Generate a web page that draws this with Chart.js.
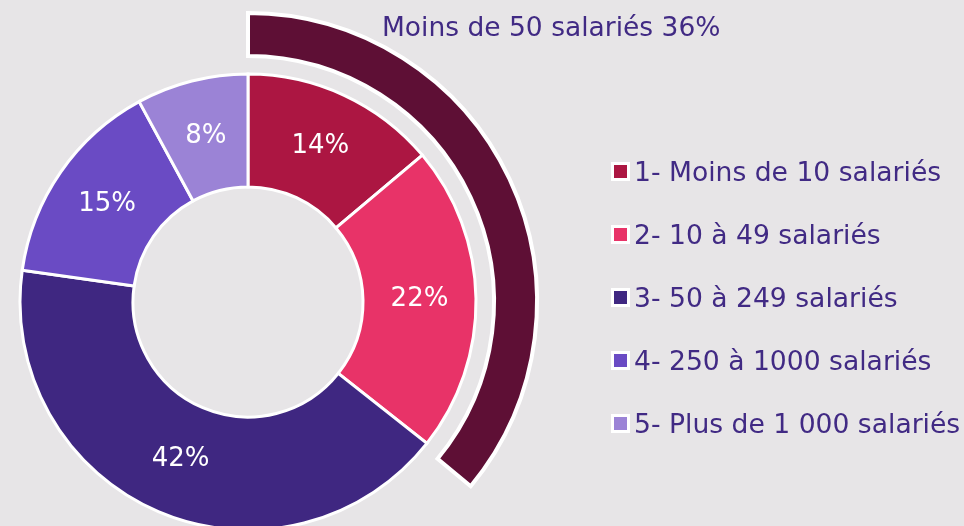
<!DOCTYPE html>
<html lang="fr">
<head>
<meta charset="utf-8">
<script src="https://cdn.jsdelivr.net/npm/chart.js@4/dist/chart.umd.min.js"></script>
<style>
    html, body { margin: 0; padding: 0; background: #E7E5E7; }
    .wrap { position: relative; width: 964px; height: 526px; overflow: hidden; font-family: "DejaVu Sans", sans-serif; color: #412A84; }
    .wrap canvas { position: absolute; left: 0; top: 0; }
    .outer-label { position: absolute; left: 382px; top: 13.6px; font-size: 26.5px; line-height: 26.5px; white-space: nowrap; }
    .legend { position: absolute; left: 611px; top: 139.5px; margin: 0; padding: 0; list-style: none; font-size: 26.6px; line-height: 63px; white-space: nowrap; }
    .legend .box { display: inline-block; width: 13px; height: 13px; border: 3px solid #fff; margin-right: 4px; }
</style>
</head>
<body>
<div class="wrap">
    <canvas id="chart" width="964" height="526"></canvas>
    <div class="outer-label" id="outerLabel"></div>
    <ul class="legend" id="legend"></ul>
</div>
<script>
    // Répartition des entreprises par taille
    const categories = ['1- Moins de 10 salariés', '2- 10 à 49 salariés', '3- 50 à 249 salariés', '4- 250 à 1000 salariés', '5- Plus de 1 000 salariés'];
    const shares = [14, 22, 42, 15, 8];
    const sliceColors = ['#AC1642', '#E83368', '#3F2781', '#6A4BC4', '#9B83D6'];

    // arc extérieur : part des moins de 50 salariés
    const groupLabel = 'Moins de 50 salariés';
    const groupShare = [36, 64];
    const groupColor = '#5E0F35';

    document.getElementById('outerLabel').textContent = groupLabel + ' ' + groupShare[0] + '%';

    var legend = document.getElementById('legend');
    categories.forEach(function (name, i) {
        var li = document.createElement('li');
        var box = document.createElement('span');
        box.className = 'box';
        box.style.background = sliceColors[i];
        li.appendChild(box);
        li.appendChild(document.createTextNode(name));
        legend.appendChild(li);
    });

    // pourcentages au milieu de chaque part
    const sliceLabels = {
        id: 'sliceLabels',
        afterDatasetsDraw(chart) {
            const ctx = chart.ctx;
            const meta = chart.getDatasetMeta(2);
            ctx.save();
            ctx.fillStyle = '#ffffff';
            ctx.font = '26px "DejaVu Sans"';
            ctx.textAlign = 'center';
            ctx.textBaseline = 'middle';
            meta.data.forEach((arc, i) => {
                const p = arc.tooltipPosition();
                ctx.fillText(shares[i] + '%', p.x, p.y);
            });
            ctx.restore();
        }
    };

    new Chart(document.getElementById('chart').getContext('2d'), {
        type: 'doughnut',
        data: {
            labels: categories,
            datasets: [{
                // anneau extérieur
                data: groupShare,
                backgroundColor: [groupColor, 'rgba(0,0,0,0)'],
                borderColor: ['#ffffff', 'rgba(0,0,0,0)'],
                borderWidth: [4, 0],
                borderJoinStyle: 'miter',
                weight: 43,
                clip: false
            }, {
                // espace vide entre les deux anneaux
                data: [1],
                backgroundColor: 'rgba(0,0,0,0)',
                borderWidth: 0,
                weight: 18,
                clip: false
            }, {
                data: shares,
                backgroundColor: sliceColors,
                borderColor: '#ffffff',
                borderWidth: 3,
                borderJoinStyle: 'miter',
                weight: 113,
                clip: false
            }]
        },
        options: {
            responsive: false,
            animation: false,
            radius: 289,
            cutout: '39.8%',
            layout: {
                padding: { left: 0, top: 78, right: 468, bottom: 0 }
            },
            plugins: {
                legend: { display: false },
                tooltip: { enabled: false }
            }
        },
        plugins: [sliceLabels]
    });
</script>
</body>
</html>
